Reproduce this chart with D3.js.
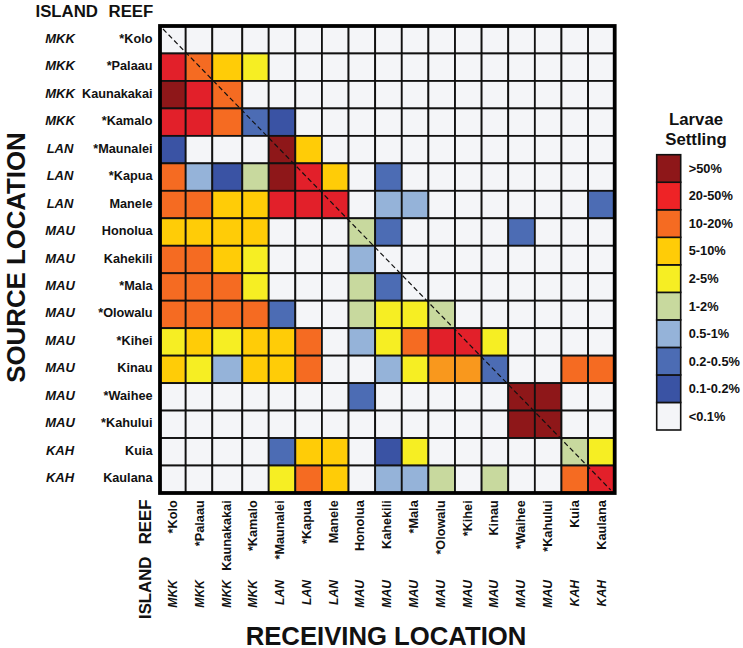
<!DOCTYPE html>
<html lang="en">
<head>
<meta charset="UTF-8">
<title>Larvae Settling</title>
<style>
    html, body { margin: 0; padding: 0; background: #fff; }
    svg { display: block; }
    text { font-family: "Liberation Sans", Arial, sans-serif; font-weight: bold; fill: #111; }
</style>
</head>
<body>
<div id="chart"></div>
<script src="https://d3js.org/d3.v7.min.js"></script>
<script>
const islands = ['MKK', 'MKK', 'MKK', 'MKK', 'LAN', 'LAN', 'LAN', 'MAU', 'MAU', 'MAU', 'MAU', 'MAU', 'MAU', 'MAU', 'MAU', 'KAH', 'KAH'];
const reefs = ['*Kolo', '*Palaau', 'Kaunakakai', '*Kamalo', '*Maunalei', '*Kapua', 'Manele', 'Honolua', 'Kahekili', '*Mala', '*Olowalu', '*Kihei', 'Kinau', '*Waihee', '*Kahului', 'Kuia', 'Kaulana'];

const legendLabels = ['<0.1%', '0.1-0.2%', '0.2-0.5%', '0.5-1%', '1-2%', '2-5%', '5-10%', '10-20%', '20-50%', '>50%'];
const legendColors = ['#f4f5f8', '#3a53a4', '#4c6cb4', '#95b3d9', '#c8d99e', '#f6ee23', '#ffcc07', '#f56b22', '#ee2326', '#8e1719'];
// the two paler orange cells in the Kinau row are not in the legend, code 10
const cellColors = ['#f4f5f8', '#3a53a4', '#4c6cb4', '#95b3d9', '#c8d99e', '#f6ee23', '#ffcc07', '#f56b22', '#e2202a', '#8e1719', '#f9981d'];

// rows = source reef, columns = receiving reef, value = index into the legend
const settling = [
    [0, 0, 0, 0, 0, 0, 0, 0, 0, 0, 0, 0, 0, 0, 0, 0, 0],
    [8, 7, 6, 5, 0, 0, 0, 0, 0, 0, 0, 0, 0, 0, 0, 0, 0],
    [9, 8, 7, 0, 0, 0, 0, 0, 0, 0, 0, 0, 0, 0, 0, 0, 0],
    [8, 8, 7, 2, 1, 0, 0, 0, 0, 0, 0, 0, 0, 0, 0, 0, 0],
    [1, 0, 0, 0, 9, 6, 0, 0, 0, 0, 0, 0, 0, 0, 0, 0, 0],
    [7, 3, 1, 4, 9, 8, 6, 0, 2, 0, 0, 0, 0, 0, 0, 0, 0],
    [7, 7, 6, 6, 8, 8, 8, 0, 3, 3, 0, 0, 0, 0, 0, 0, 2],
    [6, 6, 6, 6, 0, 0, 0, 4, 2, 0, 0, 0, 0, 2, 0, 0, 0],
    [7, 7, 6, 5, 0, 0, 0, 3, 0, 0, 0, 0, 0, 0, 0, 0, 0],
    [7, 7, 7, 5, 0, 0, 0, 4, 2, 0, 0, 0, 0, 0, 0, 0, 0],
    [7, 7, 7, 7, 2, 0, 0, 4, 5, 5, 4, 0, 0, 0, 0, 0, 0],
    [5, 6, 5, 6, 6, 7, 0, 3, 5, 7, 8, 8, 5, 0, 0, 0, 0],
    [6, 5, 3, 6, 6, 7, 0, 0, 3, 5, 10, 10, 2, 0, 0, 7, 7],
    [0, 0, 0, 0, 0, 0, 0, 2, 0, 0, 0, 0, 0, 9, 9, 0, 0],
    [0, 0, 0, 0, 0, 0, 0, 0, 0, 0, 0, 0, 0, 9, 9, 0, 0],
    [0, 0, 0, 0, 2, 6, 6, 0, 1, 5, 0, 0, 0, 0, 0, 4, 5],
    [0, 0, 0, 0, 5, 7, 6, 0, 3, 3, 4, 0, 4, 0, 0, 7, 8]
];

const width = 743, height = 648;
const svg = d3.select('#chart').append('svg').attr('width', width).attr('height', height);

// the Kaunakakai column is a little wider than the others
const x = d3.scaleLinear().domain([0, 1, 2, 3, 4, 17]).range([160, 185.7, 212.3, 242.3, 268.7, 614.7]);
const y = d3.scaleLinear().domain([0, 17]).range([26, 493]);
const colLabelX = d3.scalePoint().domain(d3.range(17)).range([177, 605.5]);
const legendY = d3.scaleBand().domain(d3.range(9, -1, -1)).range([154.7, 430]);

const cells = settling.flatMap((row, r) => row.map((v, c) => ({ r, c, v })));

svg.append('g').selectAll('rect').data(cells).join('rect')
    .attr('x', d => x(d.c))
    .attr('y', d => y(d.r))
    .attr('width', d => x(d.c + 1) - x(d.c))
    .attr('height', d => y(d.r + 1) - y(d.r))
    .attr('fill', d => cellColors[d.v])
    .attr('stroke', '#111')
    .attr('stroke-width', 1.8);

// diagonal
svg.append('line')
    .attr('x1', x(0) + 3).attr('y1', y(0) + 3)
    .attr('x2', x(17) - 4).attr('y2', y(17) - 3)
    .attr('stroke', '#111')
    .attr('stroke-width', 1.2)
    .attr('stroke-dasharray', '5 3');

// thick frame
svg.append('rect')
    .attr('x', x(0)).attr('y', y(0))
    .attr('width', x(17) - x(0)).attr('height', y(17) - y(0))
    .attr('fill', 'none')
    .attr('stroke', '#000')
    .attr('stroke-width', 3.8);

// row labels
const rowCenter = i => (y(i) + y(i + 1)) / 2 + 3;
svg.append('g').selectAll('text').data(islands).join('text')
    .attr('x', 60)
    .attr('y', (d, i) => rowCenter(i))
    .attr('text-anchor', 'middle')
    .attr('font-style', 'italic')
    .attr('font-size', 13)
    .text(d => d);
svg.append('g').selectAll('text').data(reefs).join('text')
    .attr('x', 152.5)
    .attr('y', (d, i) => rowCenter(i))
    .attr('text-anchor', 'end')
    .attr('font-size', 12.7)
    .text(d => d);

// column labels
svg.append('g').selectAll('text').data(reefs).join('text')
    .attr('transform', (d, i) => `translate(${colLabelX(i)},500.3) rotate(-90)`)
    .attr('text-anchor', 'end')
    .attr('font-size', 12.7)
    .text(d => d);
svg.append('g').selectAll('text').data(islands).join('text')
    .attr('transform', (d, i) => `translate(${colLabelX(i)},580) rotate(-90)`)
    .attr('text-anchor', 'end')
    .attr('font-style', 'italic')
    .attr('font-size', 12.2)
    .text(d => d);

// headers
svg.append('text').attr('x', 35.5).attr('y', 17.3).attr('font-size', 16.8).text('ISLAND');
svg.append('text').attr('x', 153.3).attr('y', 17.3).attr('text-anchor', 'end').attr('font-size', 16.8).text('REEF');
svg.append('text').attr('transform', 'translate(151.3,619) rotate(-90)').attr('font-size', 16.8).text('ISLAND');
svg.append('text').attr('transform', 'translate(151.3,499.6) rotate(-90)').attr('text-anchor', 'end').attr('font-size', 16.8).text('REEF');

// axis titles
svg.append('text')
    .attr('transform', 'translate(25.3,257.5) rotate(-90)')
    .attr('text-anchor', 'middle')
    .attr('font-size', 25.8)
    .text('SOURCE LOCATION');
svg.append('text')
    .attr('x', 386).attr('y', 644.8)
    .attr('text-anchor', 'middle')
    .attr('font-size', 25.7)
    .text('RECEIVING LOCATION');

// legend
svg.append('text').attr('x', 696).attr('y', 125).attr('text-anchor', 'middle').attr('font-size', 16.8).text('Larvae');
svg.append('text').attr('x', 696).attr('y', 145).attr('text-anchor', 'middle').attr('font-size', 16.8).text('Settling');

const legend = svg.append('g').selectAll('g').data(d3.range(10)).join('g');
legend.append('rect')
    .attr('x', 656.7)
    .attr('y', d => legendY(d))
    .attr('width', 24)
    .attr('height', legendY.bandwidth())
    .attr('fill', d => legendColors[d])
    .attr('stroke', '#111')
    .attr('stroke-width', 1.6);
legend.append('text')
    .attr('x', 688.7)
    .attr('y', d => legendY(d) + legendY.bandwidth() / 2 + 4.4)
    .attr('font-size', 12.8)
    .text(d => legendLabels[d]);
</script>
</body>
</html>
